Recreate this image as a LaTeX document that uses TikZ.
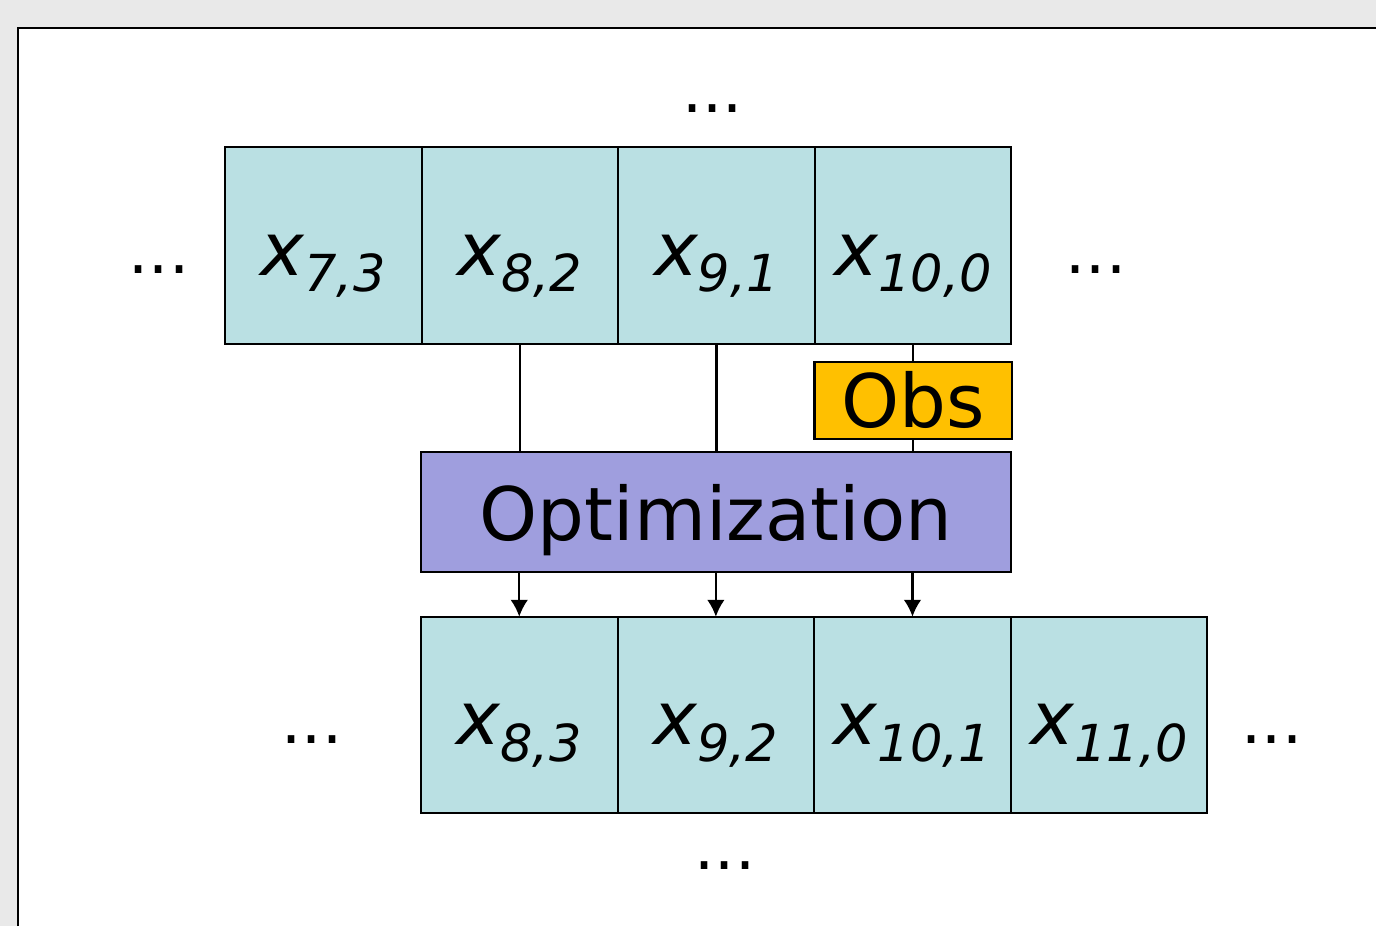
\documentclass[tikz,border=0pt]{standalone}
\usepackage{fontspec}
\setmainfont{DejaVu Sans}
\usepackage{xcolor}
\usetikzlibrary{positioning,arrows.meta}

\definecolor{cellblue}{HTML}{BAE0E3}
\definecolor{obsgold}{HTML}{FFC000}
\definecolor{optpurple}{HTML}{9F9EDE}
\definecolor{pagegray}{HTML}{E9E9E9}

\newcommand{\xcell}[1]{{\fontsize{21}{21}\selectfont\itshape x}{\fontsize{14.5}{14.5}\selectfont\itshape\raisebox{-4.8pt}{#1}}}

\tikzset{
    cell/.style={draw, fill=cellblue, line width=0.6pt, inner sep=0pt, outer sep=0pt,
        minimum width=1.965cm, minimum height=1.965cm, text height=0.59cm, text depth=0pt},
    dots/.style={inner sep=0pt, font=\fontsize{18}{18}\selectfont, text depth=0pt},
    link/.style={line width=0.6pt},
    flow/.style={line width=0.6pt, -{Latex[length=4.8pt,width=5pt]}}
}

\begin{document}
\begin{tikzpicture}[x=0.01cm, y=-0.01cm]

        %%page
        \fill[pagegray] (0,0) rectangle (1376,926);
        \useasboundingbox (0,0) rectangle (1376,926);
        \fill[white] (18,28) rectangle (1376,926);
        \draw[line width=0.8pt] (18,926) -- (18,28) -- (1376,28);

        %%top row
        \node[cell] (x73) at (323.25,245.5){\xcell{7,3}};
        \node[cell, right=0pt of x73] (x82){\xcell{8,2}};
        \node[cell, right=0pt of x82] (x91){\xcell{9,1}};
        \node[cell, right=0pt of x91] (x100){\xcell{10,0}};

        %%obs and optimization
        \node[draw, fill=obsgold, line width=0.6pt, inner sep=0pt, outer sep=0pt,
            minimum width=1.97cm, minimum height=0.77cm,
            font=\fontsize{21}{21}\selectfont, below=0.18cm of x100] (obs){Obs};
        \node[draw, fill=optpurple, line width=0.6pt, inner sep=0pt, outer sep=0pt,
            minimum width=5.9cm, minimum height=1.2cm, text depth=0pt,
            font=\fontsize{21}{21}\selectfont] (opt) at (716,512){Optimization};

        %%bottom row
        \node[cell] (x83) at (519.25,715){\xcell{8,3}};
        \node[cell, right=0pt of x83] (x92){\xcell{9,2}};
        \node[cell, right=0pt of x92] (x101){\xcell{10,1}};
        \node[cell, right=0pt of x101] (x110){\xcell{11,0}};

        %%links
        \draw[link] (x82.south) -- (x82 |- opt.north);
        \draw[link] (x91.south) -- (x91 |- opt.north);
        \draw[link] (x100.south) -- (obs.north);
        \draw[link] (obs.south) -- (x100 |- opt.north);

        \draw[flow] (x83 |- opt.south) -- (x83.north);
        \draw[flow] (x92 |- opt.south) -- (x92.north);
        \draw[flow] (x101 |- opt.south) -- (x101.north);

        %%dots
        \node[dots] (dtop) at (712.5,109){...};
        \node[dots] (dleft) at (159,270){...};
        \node[dots] (dright) at (1096,270){...};
        \node[dots] (dbl) at (312,740){...};
        \node[dots] (dbr) at (1272,740){...};
        \node[dots] (dbot) at (725,866){...};
\end{tikzpicture}
\end{document}
